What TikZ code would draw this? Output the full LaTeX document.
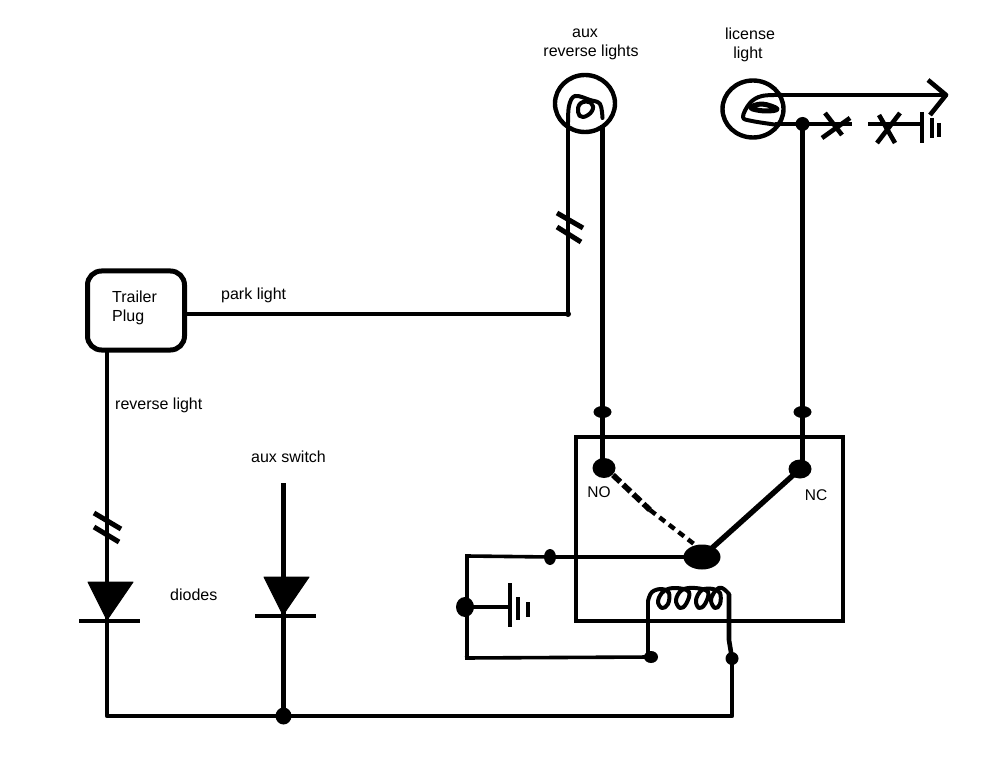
\documentclass[tikz,border=0pt]{standalone}
\usepackage{fontspec}
\setmainfont{Liberation Sans}
\usetikzlibrary{shapes.geometric}
\tikzset{
  wire/.style={line width=4.6pt,line join=round},
  thin wire/.style={line width=3.6pt,line join=round},
  scribble/.style={line width=4pt,line cap=round,line join=round},
  dotnode/.style={ellipse,fill=black,inner sep=0pt,outer sep=0pt},
  lbl/.style={anchor=base west,inner sep=0pt,font=\fontsize{16}{18}\selectfont},
  lblc/.style={anchor=base,inner sep=0pt,font=\fontsize{16}{18}\selectfont},
  small/.style={anchor=base,inner sep=0pt,font=\fontsize{15.5}{18}\selectfont},
  lamp/.style={ellipse,draw=black,line width=4.4pt,inner sep=0pt,outer sep=0pt},
  coord/.style={inner sep=0pt,outer sep=0pt}
}
\begin{document}
\begin{tikzpicture}[x=1pt,y=-1pt]
\useasboundingbox (0,0) rectangle (1002,770);
% lamps
\node[lamp,minimum width=60pt,minimum height=57pt] (auxlamp) at (585,103.5) {};
\node[lamp,minimum width=61pt,minimum height=57pt] (liclamp) at (753,109) {};
% plug
\draw[line width=5pt,rounded corners=14pt] (87.5,271) rectangle (184.5,350);
\node[coord] (plugE) at (185,314) {};
\node[coord] (plugS) at (107,350) {};
% relay box
\draw[line width=4pt] (576,437) rectangle (843,621);
% dots
\node[dotnode,minimum width=18pt,minimum height=12pt] (noTop) at (602.5,412) {};
\node[dotnode,minimum width=18pt,minimum height=12pt] (ncTop) at (802.5,412) {};
\node[dotnode,minimum width=23pt,minimum height=20pt] (no) at (604,468) {};
\node[dotnode,minimum width=23pt,minimum height=19pt] (nc) at (800,469) {};
\node[dotnode,minimum width=37pt,minimum height=25pt] (arm) at (702,557) {};
\node[dotnode,minimum width=12pt,minimum height=16pt] (comdot) at (550,557) {};
\node[dotnode,minimum width=18pt,minimum height=20pt] (gnddot) at (465,607) {};
\node[dotnode,minimum width=14pt,minimum height=12pt] (coilL) at (651,657) {};
\node[dotnode,minimum width=13pt,minimum height=13pt] (coilR) at (732,658.5) {};
\node[dotnode,minimum width=16pt,minimum height=17pt] (junc) at (283.5,716) {};
\node[dotnode,minimum width=14pt,minimum height=14pt] (licdot) at (802.5,124) {};
\node[dotnode,minimum width=6pt,minimum height=6pt] (parkdot) at (568,314) {};
% helper coordinates
\coordinate (corTL) at (467,556);
\coordinate (corBL) at (467,658);
\coordinate (botL) at (107,716);
\coordinate (botR) at (732,716);
\coordinate (swTop) at (283.5,483);
\coordinate (gndT) at (508,607);
% main wiring
\draw[wire] (plugE) -- (parkdot.center) -- (568,115);
\draw[wire] (602.5,125) -- (noTop.center) -- (noTop.center |- no.center);
\draw[wire] (licdot.center) -- (ncTop.center) -- (ncTop.center |- nc.center);
\draw[wire,line cap=round] (plugS) -- (botL) -- (botR) -- (coilR.center);
\draw[wire] (swTop) -- (junc.center);
\draw[thin wire] (arm.center) -- (comdot.center) -- (corTL);
\draw[wire] (corTL) -- (corBL);
\draw[thin wire] (465,556) -- (corTL);
\draw[thin wire] (465,658) -- (coilL.center);
\draw[wire] (gnddot.center) -- (gndT);
\draw[line width=5.4pt] (nc.center) -- (arm.center);
% dashed armature, tapering
\draw[line width=5.6pt,dash pattern=on 10pt off 4pt] (no.center) ++(9,7) -- (650,510);
\draw[line width=4.4pt,dash pattern=on 7pt off 5pt] (650,510) -- (694,544);
% coil
\draw[wire] (648,657) -- (648,601);
\draw[scribble] plot[smooth,tension=.65] coordinates {(648,601)(652,592)(662,589)(669,593)(668,604)(662,608)(658,601)(664,591)(676,588)(689,592)(686,604)(680,608)(676,600)(682,590)(695,588)(708,592)(705,604)(699,608)(696,600)(702,590)(713,589)(720,593)(720,604)(715,608)(711,600)(716,590)(722,588)(729,594)};
\draw[wire] (729,594) -- (729,640) -- (coilR.center);
% aux lamp filament
\draw[scribble] plot[smooth,tension=.6] coordinates {(568,125)(569,106)(575,96)(590,100)(600,104)(602.5,118)};
\draw[scribble] plot[smooth cycle,tension=.8] coordinates {(581,103)(578,112)(583,117)(592,111)(591,103)};
% licence filament
\draw[scribble] plot[smooth,tension=.6] coordinates {(782,95)(762,96)(750,103)(743,117)(752,121)(778,125)};
\draw[line width=5pt,line join=round] plot[smooth cycle,tension=.7] coordinates {(751,108)(762,104)(777,109)(765,111)};
% licence right side
\draw[wire] (780,95) -- (945,95);
\draw[wire,line cap=butt] (928,80) -- (946,95) -- (930,115);
\draw[wire] (775,124) -- (licdot.center) -- (852,124);
\draw[wire] (868,124) -- (921,124);
\draw[wire] (825,113) -- (842,135);
\draw[wire] (822,138) -- (850,118);
\draw[wire] (879,115) -- (895,143);
\draw[wire] (900,113) -- (877,143);
\draw[line width=4.4pt] (922,112) -- (922,143);
\draw[line width=4.4pt] (932,118) -- (932,138);
\draw[line width=4.4pt] (939,123) -- (939,137);
% ground
\draw[line width=4.5pt] (510,583) -- (510,627);
\draw[line width=4.5pt] (518,597) -- (518,620);
\draw[line width=4.5pt] (528,602) -- (528,617);
% slashes
\draw[line width=5pt] (557,213) -- (583,228);
\draw[line width=5pt] (557,227) -- (581,242);
\draw[line width=5pt] (94,513) -- (121,529);
\draw[line width=5pt] (94,527) -- (119,542);
% diodes
\fill[line join=round,draw=black,line width=1pt] (88,582) -- (133,582) -- (107,620) -- cycle;
\draw[line width=4.5pt] (79,621) -- (140,621);
\fill[line join=round,draw=black,line width=1pt] (264,577) -- (309,577) -- (283,615) -- cycle;
\draw[line width=4.5pt] (255,616) -- (316,616);
% labels
\node[lblc] (t1) at (585,38) {aux};
\node[lblc] (t2) at (591,57) {reverse lights};
\node[lblc] (t3) at (750,40) {license};
\node[lblc] (t4) at (748,59) {light};
\node[lbl] (t5) at (112,302) {Trailer};
\node[lbl] (t6) at (112,322) {Plug};
\node[lbl] (t7) at (221,300) {park light};
\node[lbl] (t8) at (115,409) {reverse light};
\node[lbl] (t9) at (251,462) {aux switch};
\node[lbl] (t10) at (170,600) {diodes};
\node[small] (t11) at (599,497) {NO};
\node[small] (t12) at (816,500) {NC};
\end{tikzpicture}
\end{document}
